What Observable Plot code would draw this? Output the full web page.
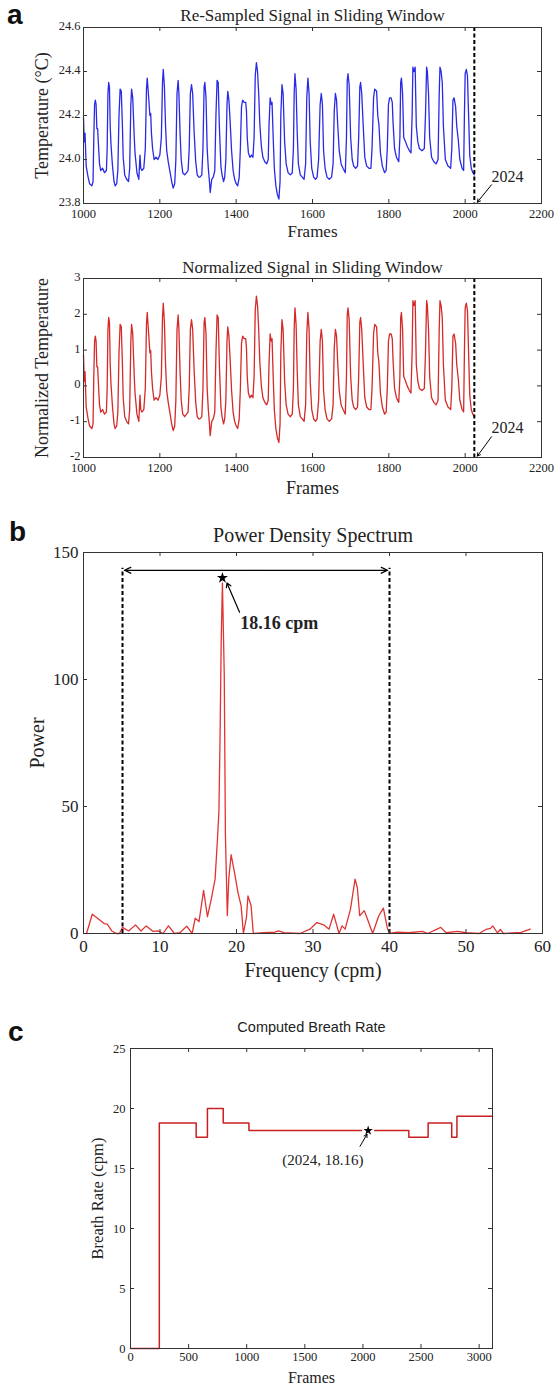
<!DOCTYPE html>
<html>
<head>
<meta charset="utf-8">
<script src="https://cdn.jsdelivr.net/npm/d3@7"></script>
<script src="https://cdn.jsdelivr.net/npm/@observablehq/plot@0.6"></script>
<style>
  html, body { margin: 0; padding: 0; background: #fff; }
  #wrap { position: relative; width: 555px; height: 1386px; background: #fff; overflow: hidden; }
  .panel { position: absolute; left: 0; }
  .letter { position: absolute; font-family: "Liberation Sans", Arial, sans-serif; font-weight: bold; font-size: 28px; line-height: 1; color: #111; }
</style>
</head>
<body>
<div id="wrap">
  <div class="letter" style="left:7px;top:1px;">a</div>
  <div class="letter" style="left:9px;top:518px;">b</div>
  <div class="letter" style="left:8px;top:1018px;">c</div>
</div>
<script>
// ---------- Data: panel a (sliding window) ----------
const frames = [1000,1002,1004,1007,1012,1016,1022,1025,1027,1029,1031,1033,1035,1037,1040,1042,1045,1050,1055,1060,1062,1064,1066,1068,1070,1072,1076,1080,1083,1087,1090,1093,1096,1099,1102,1104,1108,1113,1118,1121,1124,1126,1129,1133,1135,1140,1145,1148,1150,1153,1158,1162,1165,1167,1170,1174,1176,1178,1181,1185,1190,1195,1200,1204,1207,1209,1212,1215,1218,1222,1227,1231,1235,1239,1242,1245,1248,1250,1253,1256,1260,1265,1270,1274,1277,1280,1283,1286,1290,1294,1298,1302,1305,1310,1313,1316,1318,1321,1324,1327,1330,1332,1336,1340,1344,1347,1350,1353,1356,1360,1363,1367,1370,1373,1376,1378,1381,1384,1388,1392,1396,1400,1404,1408,1411,1414,1417,1421,1425,1427,1429,1432,1436,1440,1444,1447,1450,1453,1456,1459,1462,1466,1470,1475,1480,1484,1486,1489,1492,1494,1497,1500,1504,1508,1512,1515,1517,1520,1523,1527,1531,1536,1542,1547,1550,1552,1554,1557,1560,1563,1568,1573,1578,1582,1585,1588,1591,1594,1598,1603,1608,1612,1616,1620,1623,1626,1629,1633,1638,1644,1650,1654,1657,1660,1663,1666,1670,1675,1680,1686,1689,1691,1693,1696,1700,1704,1708,1713,1718,1721,1724,1726,1729,1733,1737,1742,1748,1753,1756,1760,1763,1768,1771,1774,1778,1783,1789,1793,1796,1799,1802,1806,1809,1811,1815,1820,1826,1829,1831,1833,1836,1839,1844,1848,1854,1858,1861,1863,1866,1869,1872,1876,1880,1887,1893,1896,1899,1901,1904,1907,1912,1918,1924,1929,1932,1934,1937,1940,1943,1948,1955,1962,1965,1968,1971,1975,1978,1982,1986,1992,1996,1998,2000,2003,2006,2009,2012,2016,2020,2024];
const temperature = [24.19,24.08,24.12,23.97,23.92,23.89,23.88,23.90,24.10,24.25,24.27,24.25,24.14,24.14,24.04,23.98,23.95,23.96,23.94,23.95,24.05,24.30,24.35,24.33,24.15,24.07,23.97,23.90,23.88,23.89,23.95,24.20,24.32,24.31,24.15,24.01,23.93,23.91,23.90,23.96,24.25,24.32,24.28,24.10,24.03,23.94,23.91,24.02,23.96,23.95,23.96,24.05,24.32,24.37,24.30,24.20,24.21,24.12,24.05,24.00,24.01,24.00,24.02,24.10,24.35,24.41,24.33,24.15,24.04,23.99,23.94,23.90,23.87,23.89,24.00,24.30,24.36,24.30,24.12,24.00,23.94,23.93,23.94,23.95,24.05,24.30,24.34,24.30,24.12,23.99,23.93,23.92,23.92,23.93,24.05,24.33,24.35,24.28,24.05,23.96,23.90,23.85,23.91,23.92,23.95,24.20,24.36,24.35,24.15,23.97,23.93,23.90,23.92,24.00,24.25,24.31,24.27,24.18,24.04,23.95,23.91,23.89,23.88,23.92,24.05,24.24,24.27,24.26,24.26,24.22,24.10,24.03,24.01,24.02,24.01,24.10,24.38,24.44,24.40,24.30,24.16,24.06,24.01,23.99,23.98,24.00,24.15,24.28,24.25,24.26,24.10,23.96,23.88,23.84,23.82,23.90,24.20,24.34,24.30,24.08,23.98,23.94,23.93,23.94,24.05,24.30,24.39,24.32,24.12,23.98,23.93,23.92,23.91,23.98,24.28,24.37,24.30,24.08,23.96,23.92,23.91,23.92,24.00,24.25,24.30,24.25,24.04,23.96,23.92,23.91,23.92,23.98,24.22,24.30,24.27,24.16,24.04,23.98,23.96,23.94,24.10,24.36,24.39,24.34,24.10,24.00,23.97,23.96,23.97,24.10,24.33,24.35,24.30,24.15,24.01,23.97,23.96,23.96,24.05,24.28,24.32,24.31,24.20,24.16,24.03,23.97,23.94,23.95,24.05,24.25,24.28,24.28,24.26,24.17,24.05,24.01,23.99,24.10,24.35,24.37,24.30,24.10,24.08,24.06,24.04,24.03,24.20,24.42,24.40,24.42,24.15,24.08,24.05,24.04,24.05,24.20,24.42,24.40,24.30,24.10,24.01,23.99,23.98,24.00,24.30,24.42,24.40,24.35,24.15,24.00,23.97,23.96,24.05,24.27,24.28,24.24,24.15,24.09,24.00,23.96,23.95,24.20,24.39,24.41,24.38,24.20,24.02,23.96,23.94,23.93];
const normalized = [0.86,0.13,0.40,-0.59,-0.92,-1.12,-1.19,-1.06,0.26,1.25,1.39,1.25,0.53,0.53,-0.13,-0.53,-0.73,-0.66,-0.79,-0.73,-0.07,1.58,1.91,1.78,0.59,0.07,-0.59,-1.06,-1.19,-1.12,-0.73,0.92,1.72,1.65,0.59,-0.33,-0.86,-0.99,-1.06,-0.66,1.25,1.72,1.45,0.26,-0.20,-0.79,-0.99,-0.26,-0.66,-0.73,-0.66,-0.07,1.72,2.05,1.58,0.92,0.99,0.40,-0.07,-0.40,-0.33,-0.40,-0.26,0.26,1.91,2.31,1.78,0.59,-0.13,-0.46,-0.79,-1.06,-1.25,-1.12,-0.40,1.58,1.98,1.58,0.40,-0.40,-0.79,-0.86,-0.79,-0.73,-0.07,1.58,1.85,1.58,0.40,-0.46,-0.86,-0.92,-0.92,-0.86,-0.07,1.78,1.91,1.45,-0.07,-0.66,-1.06,-1.39,-0.99,-0.92,-0.73,0.92,1.98,1.91,0.59,-0.59,-0.86,-1.06,-0.92,-0.40,1.25,1.65,1.39,0.79,-0.13,-0.73,-0.99,-1.12,-1.19,-0.92,-0.07,1.19,1.39,1.32,1.32,1.06,0.26,-0.20,-0.33,-0.26,-0.33,0.26,2.11,2.51,2.24,1.58,0.66,0.00,-0.33,-0.46,-0.53,-0.40,0.59,1.45,1.25,1.32,0.26,-0.66,-1.19,-1.45,-1.58,-1.06,0.92,1.85,1.58,0.13,-0.53,-0.79,-0.86,-0.79,-0.07,1.58,2.18,1.72,0.40,-0.53,-0.86,-0.92,-0.99,-0.53,1.45,2.05,1.58,0.13,-0.66,-0.92,-0.99,-0.92,-0.40,1.25,1.58,1.25,-0.13,-0.66,-0.92,-0.99,-0.92,-0.53,1.06,1.58,1.39,0.66,-0.13,-0.53,-0.66,-0.79,0.26,1.98,2.18,1.85,0.26,-0.40,-0.59,-0.66,-0.59,0.26,1.78,1.91,1.58,0.59,-0.33,-0.59,-0.66,-0.66,-0.07,1.45,1.72,1.65,0.92,0.66,-0.20,-0.59,-0.79,-0.73,-0.07,1.25,1.45,1.45,1.32,0.73,-0.07,-0.33,-0.46,0.26,1.91,2.05,1.58,0.26,0.13,0.00,-0.13,-0.20,0.92,2.38,2.24,2.38,0.59,0.13,-0.07,-0.13,-0.07,0.92,2.38,2.24,1.58,0.26,-0.33,-0.46,-0.53,-0.40,1.58,2.38,2.24,1.91,0.59,-0.40,-0.59,-0.66,-0.07,1.39,1.45,1.19,0.59,0.20,-0.40,-0.66,-0.73,0.92,2.18,2.31,2.11,0.92,-0.26,-0.66,-0.79,-0.86];
const windowEnd = 2024;
const windowLabel = "2024";
const frameTicksA = [1000, 1200, 1400, 1600, 1800, 2000, 2200];
const tempTicks = [23.8, 24.0, 24.2, 24.4, 24.6];
const normTicks = [-2, -1, 0, 1, 2, 3];

// ---------- Data: panel b (power density spectrum) ----------
const freq = [0.4,1.15,2.0,2.7,3.1,3.7,4.3,4.7,5.1,5.9,6.8,7.5,8.2,9.1,9.8,10.4,11.1,11.9,12.6,13.5,14.2,14.6,15.1,15.7,16.2,16.7,17.2,17.5,17.7,17.85,18.0,18.16,18.4,18.55,18.8,19.0,19.3,19.7,20.2,20.6,20.9,21.3,21.5,21.9,22.2,23.5,25.0,25.5,26.2,28.3,29.6,30.5,31.4,32.1,32.7,33.4,33.8,34.2,34.9,35.5,35.8,36.1,36.7,37.2,37.8,38.6,39.2,39.7,40.0,41.0,42.5,44.3,45.0,46.7,47.4,48.9,50.0,51.7,52.6,53.2,53.5,54.1,54.5,54.9,57.2,58.4];
const power = [0,7.6,5.6,3.9,3.7,1,0,0,2.4,1,3.4,1,3,0.8,1,0,3,0,0.3,2.9,0,6,4.7,17,6.6,13.5,21.4,36.5,48,77,115,138,102,39,7,22,31,24.7,16,11,0,6.3,14.8,11,0,0.3,0.5,1,0.3,0,1.7,4.3,3.4,1.7,7.6,0,3,1.7,9.6,21.4,18,7,9,5,0,7,10,2.4,0,0.5,0.3,0.8,0,2.4,0.3,0.8,0.3,0,1.6,2,3,0.3,1.6,0,0.4,1.7];
const band = [5.1, 40];
const bandLevel = 143;
const peakFreq = 18.16;
const peakMark = 140;
const peakLabel = "18.16 cpm";
const freqTicks = [0, 10, 20, 30, 40, 50, 60];
const powerTicks = [0, 50, 100, 150];

// ---------- Data: panel c (computed breath rate) ----------
const rateFrames = [0, 248, 565, 662, 798, 1019, 2395, 2561, 2764, 2809, 3115];
const breathRate = [0, 18.8, 17.6, 20.0, 18.8, 18.16, 17.6, 18.8, 17.6, 19.35, 19.35];
const markFrame = 2045;
const markRate = 18.16;
const markLabel = "(2024, 18.16)";
const frameTicksC = [0, 500, 1000, 1500, 2000, 2500, 3000];
const rateTicks = [0, 5, 10, 15, 20, 25];

// ---------- helpers ----------
const SERIF = "'Liberation Serif', 'Times New Roman', serif";
const INK = "#222";
function boxTicks(xt, yt, ih, iw, len = 4) {
  return [
    Plot.tickX(xt, {x: d => d, insetTop: ih - len, stroke: "#333"}),
    Plot.tickX(xt, {x: d => d, insetBottom: ih - len, stroke: "#333"}),
    Plot.tickY(yt, {y: d => d, insetRight: iw - len, stroke: "#333"}),
    Plot.tickY(yt, {y: d => d, insetLeft: iw - len, stroke: "#333"})
  ];
}
function place(svg, top) {
  const d = document.createElement("div");
  d.className = "panel";
  d.style.top = top + "px";
  d.appendChild(svg);
  document.getElementById("wrap").appendChild(d);
}
const baseStyle = (fs) => ({fontFamily: SERIF, fontSize: fs + "px", color: INK, background: "transparent", overflow: "visible"});
const yTitle = (txt, dx, fs) => Plot.text([txt], {frameAnchor: "left", dx, rotate: -90, textAnchor: "middle", lineAnchor: "middle", text: d => d, fontSize: fs, fill: INK});
const topTitle = (txt, dy, fs, extra = {}) => Plot.text([txt], {frameAnchor: "top", dy, lineAnchor: "middle", text: d => d, fontSize: fs, fill: INK, ...extra});
const xTitle = (txt, dy, fs) => Plot.text([txt], {frameAnchor: "bottom", dy, lineAnchor: "middle", text: d => d, fontSize: fs, fill: INK});

const sigA = frames.map((f, i) => ({f, t: temperature[i], n: normalized[i]}));

// ---------- Panel a, top ----------
{
  const W = 555, H = 240, mt = 27, mb = 37, ml = 83, mr = 14;
  place(Plot.plot({
    width: W, height: H, marginTop: mt, marginBottom: mb, marginLeft: ml, marginRight: mr,
    x: {domain: [1000, 2200]}, y: {domain: [23.8, 24.6]},
    style: baseStyle(12.5),
    marks: [
      Plot.line(sigA, {x: "f", y: "t", stroke: "#2a2ae6", strokeWidth: 1.3}),
      Plot.ruleX([windowEnd], {x: d => d, stroke: "#000", strokeWidth: 2, strokeDasharray: "4,2.5"}),
      Plot.frame({stroke: "#333"}),
      ...boxTicks(frameTicksA, tempTicks, H - mt - mb, W - ml - mr),
      Plot.axisX(frameTicksA, {tickSize: 0, tickPadding: 6, tickFormat: d => String(d), label: null}),
      Plot.axisY(tempTicks, {tickSize: 0, tickPadding: 3, dy: -1.5, tickFormat: d => d.toFixed(1), label: null}),
      Plot.arrow([{x1: 2069, y1: 23.885, x2: 2032, y2: 23.806}], {x1: "x1", y1: "y1", x2: "x2", y2: "y2", headLength: 5, strokeWidth: 1, stroke: "#000"}),
      Plot.text([windowLabel], {x: 2111, y: 23.92, text: d => d, fontSize: 16, fill: INK}),
      topTitle("Re-Sampled Signal in Sliding Window", -12, 17),
      xTitle("Frames", 28, 17),
      yTitle("Temperature (°C)", -41, 18)
    ]
  }), 0);
}

// ---------- Panel a, bottom ----------
{
  const W = 555, H = 260, mt = 38, mb = 43, ml = 83, mr = 14;
  place(Plot.plot({
    width: W, height: H, marginTop: mt, marginBottom: mb, marginLeft: ml, marginRight: mr,
    x: {domain: [1000, 2200]}, y: {domain: [-2, 3]},
    style: baseStyle(12.5),
    marks: [
      Plot.line(sigA, {x: "f", y: "n", stroke: "#d42a2a", strokeWidth: 1.3}),
      Plot.ruleX([windowEnd], {x: d => d, stroke: "#000", strokeWidth: 2, strokeDasharray: "4,2.5"}),
      Plot.frame({stroke: "#333"}),
      ...boxTicks(frameTicksA, normTicks, H - mt - mb, W - ml - mr),
      Plot.axisX(frameTicksA, {tickSize: 0, tickPadding: 6, tickFormat: d => String(d), label: null}),
      Plot.axisY(normTicks, {tickSize: 0, tickPadding: 3, dy: -1.5, tickFormat: d => String(d), label: null}),
      Plot.arrow([{x1: 2069, y1: -1.42, x2: 2032, y2: -1.96}], {x1: "x1", y1: "y1", x2: "x2", y2: "y2", headLength: 5, strokeWidth: 1, stroke: "#000"}),
      Plot.text([windowLabel], {x: 2111, y: -1.18, text: d => d, fontSize: 16, fill: INK}),
      topTitle("Normalized Signal in Sliding Window", -11, 17),
      xTitle("Frames", 31, 18),
      yTitle("Normalized Temperature", -41, 18)
    ]
  }), 240);
}

// ---------- Panel b ----------
{
  const W = 555, H = 490, mt = 52, mb = 57, ml = 83, mr = 13;
  const spec = freq.map((f, i) => ({f, p: power[i]}));
  const mid = (band[0] + band[1]) / 2;
  place(Plot.plot({
    width: W, height: H, marginTop: mt, marginBottom: mb, marginLeft: ml, marginRight: mr,
    x: {domain: [0, 60]}, y: {domain: [0, 150]},
    style: baseStyle(17),
    marks: [
      Plot.line(spec, {x: "f", y: "p", stroke: "#e03434", strokeWidth: 1.3}),
      Plot.ruleX(band, {x: d => d, y1: 0, y2: bandLevel + 0.8, stroke: "#000", strokeWidth: 2, strokeDasharray: "4,2.5"}),
      Plot.arrow([{a: mid, b: band[0] + 0.25}, {a: mid, b: band[1] - 0.25}], {x1: "a", x2: "b", y1: bandLevel, y2: bandLevel, headLength: 8, headAngle: 50, strokeWidth: 1.3, stroke: "#000"}),
      Plot.frame({stroke: "#333"}),
      ...boxTicks(freqTicks, powerTicks, H - mt - mb, W - ml - mr),
      Plot.axisX(freqTicks, {tickSize: 0, tickPadding: 6, tickFormat: d => String(d), label: null}),
      Plot.axisY(powerTicks, {tickSize: 0, tickPadding: 5, tickFormat: d => String(d), label: null}),
      Plot.dot([peakFreq], {x: d => d, y: peakMark, symbol: "star", r: 3.5, fill: "#000", stroke: "none"}),
      Plot.arrow([{x1: 20.4, y1: 126.5, x2: 18.75, y2: 138}], {x1: "x1", y1: "y1", x2: "x2", y2: "y2", headLength: 6, strokeWidth: 1.2, stroke: "#000"}),
      Plot.text([peakLabel], {x: 20.5, y: 122, text: d => d, textAnchor: "start", fontSize: 18, fontWeight: "bold", fill: INK}),
      topTitle("Power Density Spectrum", -17, 20),
      xTitle("Frequency (cpm)", 37, 20),
      yTitle("Power", -46, 20)
    ]
  }), 500);
}

// ---------- Panel c ----------
{
  const W = 555, H = 396, mt = 58, mb = 38, ml = 130, mr = 63;
  const steps = rateFrames.map((f, i) => ({f, r: breathRate[i]}));
  place(Plot.plot({
    width: W, height: H, marginTop: mt, marginBottom: mb, marginLeft: ml, marginRight: mr,
    x: {domain: [0, 3115]}, y: {domain: [0, 25]},
    style: baseStyle(12.5),
    marks: [
      Plot.line(steps, {x: "f", y: "r", curve: "step-after", stroke: "#c82020", strokeWidth: 1.5}),
      Plot.frame({stroke: "#333"}),
      ...boxTicks(frameTicksC, rateTicks, H - mt - mb, W - ml - mr),
      Plot.axisX(frameTicksC, {tickSize: 0, tickPadding: 4, tickFormat: d => String(d), label: null}),
      Plot.axisY(rateTicks, {tickSize: 0, tickPadding: 5, tickFormat: d => String(d), label: null}),
      Plot.dot([markFrame], {x: d => d, y: markRate, r: 6, fill: "#fff", stroke: "none"}),
      Plot.dot([markFrame], {x: d => d, y: markRate, symbol: "star", r: 3, fill: "#000", stroke: "none"}),
      Plot.arrow([{x1: 1975, y1: 16.85, x2: 2035, y2: 17.85}], {x1: "x1", y1: "y1", x2: "x2", y2: "y2", headLength: 5, strokeWidth: 1, stroke: "#000"}),
      Plot.text([markLabel], {x: 1655, y: 15.7, text: d => d, fontSize: 15, fill: INK}),
      topTitle("Computed Breath Rate", -21, 14.5, {fontFamily: "'Liberation Sans', Arial, sans-serif"}),
      xTitle("Frames", 29, 16),
      yTitle("Breath Rate (cpm)", -33, 16.5)
    ]
  }), 990);
}
</script>
</body>
</html>
